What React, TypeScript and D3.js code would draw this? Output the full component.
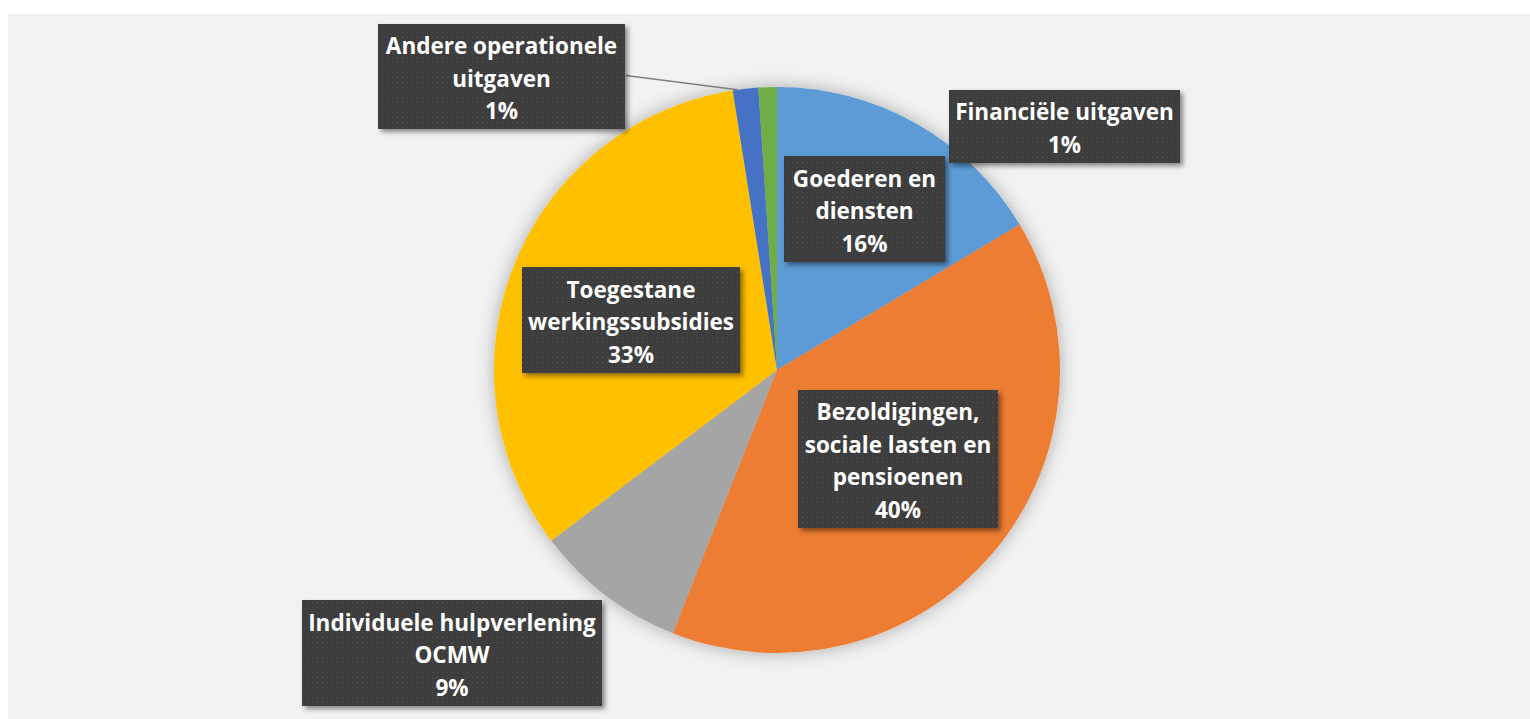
import React, { useEffect, useRef } from 'react'
import * as d3 from 'd3'

// chart data
const categories = [
  'Goederen en diensten',
  'Bezoldigingen, sociale lasten en pensioenen',
  'Individuele hulpverlening OCMW',
  'Toegestane werkingssubsidies',
  'Andere operationele uitgaven',
  'Financiële uitgaven',
]
const values = [16.4, 39.6, 8.7, 32.8, 1.45, 1.05]
const colors = ['#5B9BD5', '#ED7D31', '#A5A5A5', '#FFC000', '#4472C4', '#70AD47']
const labelLines = [
  ['Goederen en', 'diensten'],
  ['Bezoldigingen,', 'sociale lasten en', 'pensioenen'],
  ['Individuele hulpverlening', 'OCMW'],
  ['Toegestane', 'werkingssubsidies'],
  ['Andere operationele', 'uitgaven'],
  ['Financiële uitgaven'],
]

// where the data label boxes sit (x, y, w, h), placed by hand like in the original
const labelBoxes = [
  [784, 156, 161, 106],
  [798, 390, 200, 138],
  [302, 600, 300, 106],
  [522, 267, 218, 106],
  [378, 24, 247, 105],
  [949, 90, 231, 73],
]
const withLeader = [false, false, false, false, true, false]

const W = 1530
const H = 719

export default function App() {
  const ref = useRef<SVGSVGElement>(null)

  useEffect(() => {
    const svg = d3.select(ref.current)
    svg.selectAll('*').remove()

    const defs = svg.append('defs')
    const pat = defs.append('pattern')
      .attr('id', 'dots')
      .attr('width', 5).attr('height', 5)
      .attr('patternUnits', 'userSpaceOnUse')
    pat.append('rect').attr('width', 5).attr('height', 5).attr('fill', '#3e3e3e')
    pat.append('rect').attr('x', 2).attr('y', 2).attr('width', 1).attr('height', 1).attr('fill', '#525252')

    defs.append('filter').attr('id', 'pieShadow')
      .attr('x', '-20%').attr('y', '-20%').attr('width', '140%').attr('height', '140%')
      .append('feDropShadow')
      .attr('dx', 0).attr('dy', 0).attr('stdDeviation', 9)
      .attr('flood-color', '#000').attr('flood-opacity', 0.3)

    defs.append('filter').attr('id', 'boxShadow')
      .attr('x', '-20%').attr('y', '-20%').attr('width', '140%').attr('height', '150%')
      .append('feDropShadow')
      .attr('dx', 3).attr('dy', 3).attr('stdDeviation', 2.5)
      .attr('flood-color', '#000').attr('flood-opacity', 0.45)

    svg.append('rect')
      .attr('x', 8).attr('y', 14)
      .attr('width', W - 8).attr('height', H - 14)
      .attr('fill', '#F2F2F2')

    const cx = 777, cy = 370, radius = 283
    const pie = d3.pie<number>().sort(null).value(d => d)
    const arcs = pie(values)
    const arc = d3.arc<d3.PieArcDatum<number>>().innerRadius(0).outerRadius(radius)

    const g = svg.append('g').attr('transform', `translate(${cx},${cy})`)
    g.append('g').attr('filter', 'url(#pieShadow)')
      .selectAll('path')
      .data(arcs)
      .join('path')
      .attr('d', arc)
      .attr('fill', (d, i) => colors[i])

    const total = d3.sum(values)

    // leader lines
    arcs.forEach((d, i) => {
      if (!withLeader[i]) return
      const [bx, by, bw, bh] = labelBoxes[i]
      const mid = (d.startAngle + d.endAngle) / 2
      const ex = cx + Math.sin(mid) * radius
      const ey = cy - Math.cos(mid) * radius
      svg.append('line')
        .attr('x1', bx + bw + 1).attr('y1', by + bh / 2 - 1)
        .attr('x2', ex - 8).attr('y2', ey + 1)
        .attr('stroke', '#7f7f7f').attr('stroke-width', 1.5)
    })

    const lineH = 32.5
    categories.forEach((c, i) => {
      const [bx, by, bw, bh] = labelBoxes[i]
      const lab = svg.append('g')
      lab.append('rect')
        .attr('x', bx).attr('y', by).attr('width', bw).attr('height', bh)
        .attr('fill', 'url(#dots)')
        .attr('filter', 'url(#boxShadow)')
      const lines = [...labelLines[i], `${Math.round((values[i] / total) * 100)}%`]
      const top = by + bh / 2 - (lines.length - 1) * lineH / 2
      lab.selectAll('text')
        .data(lines)
        .join('text')
        .attr('x', bx + bw / 2)
        .attr('y', (l, j) => top + j * lineH)
        .attr('dy', '0.45em')
        .attr('text-anchor', 'middle')
        .attr('fill', '#fff')
        .attr('font-family', '"Open Sans", Lato, sans-serif')
        .attr('font-weight', 700)
        .attr('font-size', 22.5)
        .text(l => l)
    })
  }, [])

  return (
    <svg
      ref={ref}
      width={W}
      height={H}
      style={{ position: 'absolute', left: 0, top: 0, background: '#fff' }}
    />
  )
}
